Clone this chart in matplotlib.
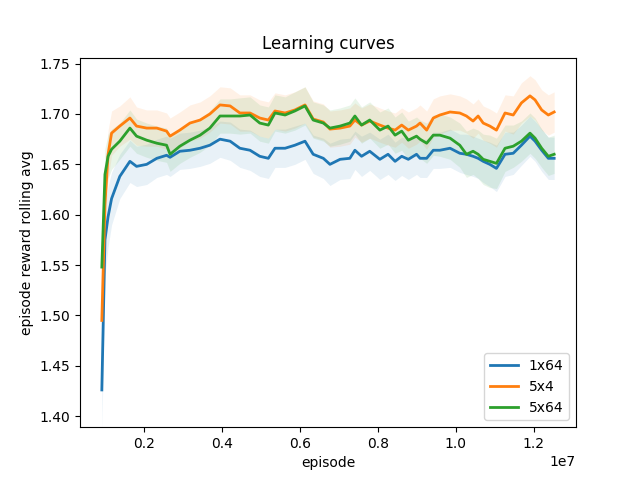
import numpy as np
import matplotlib
matplotlib.use("Agg")
import matplotlib.pyplot as plt

# episode (in millions)
episodes_m = [0.92, 1.00, 1.08, 1.17, 1.38, 1.64, 1.81, 2.07, 2.33, 2.58,
              2.67, 2.92, 3.18, 3.44, 3.69, 3.95, 4.21, 4.46, 4.72, 4.97,
              5.19, 5.36, 5.62, 5.87, 6.13, 6.34, 6.60, 6.77, 7.03, 7.28,
              7.41, 7.58, 7.79, 8.05, 8.26, 8.44, 8.61, 8.78, 8.99, 9.08,
              9.25, 9.42, 9.59, 9.85, 10.10, 10.27, 10.44, 10.57, 10.70, 10.87,
              11.04, 11.26, 11.47, 11.68, 11.90, 12.03, 12.20, 12.37, 12.52]

mean_1x64 = [1.426, 1.575, 1.598, 1.616, 1.638, 1.653, 1.648, 1.650, 1.656, 1.659,
             1.657, 1.663, 1.664, 1.666, 1.669, 1.675, 1.673, 1.666, 1.664, 1.658,
             1.656, 1.666, 1.666, 1.669, 1.673, 1.660, 1.656, 1.650, 1.655, 1.656,
             1.664, 1.658, 1.663, 1.655, 1.660, 1.653, 1.658, 1.655, 1.660, 1.656,
             1.656, 1.664, 1.664, 1.666, 1.661, 1.660, 1.658, 1.656, 1.653, 1.650,
             1.646, 1.660, 1.661, 1.669, 1.678, 1.673, 1.664, 1.656, 1.656]

mean_5x4 = [1.495, 1.610, 1.660, 1.681, 1.688, 1.696, 1.688, 1.686, 1.686, 1.683,
            1.678, 1.684, 1.691, 1.694, 1.700, 1.709, 1.708, 1.701, 1.701, 1.696,
            1.694, 1.703, 1.701, 1.704, 1.709, 1.695, 1.692, 1.685, 1.686, 1.688,
            1.694, 1.689, 1.693, 1.689, 1.686, 1.684, 1.689, 1.684, 1.688, 1.691,
            1.684, 1.696, 1.699, 1.702, 1.701, 1.698, 1.693, 1.698, 1.691, 1.688,
            1.684, 1.701, 1.699, 1.711, 1.718, 1.714, 1.704, 1.699, 1.702]

mean_5x64 = [1.548, 1.640, 1.658, 1.665, 1.673, 1.686, 1.678, 1.674, 1.671, 1.669,
             1.660, 1.668, 1.674, 1.679, 1.686, 1.698, 1.698, 1.698, 1.699, 1.691,
             1.689, 1.701, 1.699, 1.703, 1.708, 1.694, 1.691, 1.686, 1.688, 1.691,
             1.698, 1.689, 1.694, 1.684, 1.688, 1.679, 1.683, 1.674, 1.678, 1.675,
             1.671, 1.679, 1.679, 1.676, 1.669, 1.660, 1.663, 1.660, 1.655, 1.653,
             1.651, 1.666, 1.668, 1.673, 1.681, 1.676, 1.666, 1.658, 1.660]

std_1x64 = [0.040, 0.035, 0.030, 0.026, 0.022, 0.021, 0.020, 0.020, 0.019, 0.019,
            0.019, 0.018, 0.018, 0.018, 0.018, 0.018, 0.019, 0.019, 0.020, 0.020,
            0.020, 0.019, 0.019, 0.019, 0.018, 0.019, 0.020, 0.021, 0.020, 0.020,
            0.019, 0.020, 0.019, 0.020, 0.020, 0.019, 0.019, 0.020, 0.020, 0.019,
            0.019, 0.018, 0.018, 0.019, 0.019, 0.020, 0.020, 0.020, 0.021, 0.022,
            0.023, 0.022, 0.021, 0.020, 0.020, 0.020, 0.021, 0.021, 0.021]

std_5x4 = [0.030, 0.028, 0.024, 0.022, 0.020, 0.021, 0.019, 0.018, 0.018, 0.018,
           0.018, 0.018, 0.018, 0.018, 0.018, 0.018, 0.018, 0.018, 0.018, 0.018,
           0.018, 0.018, 0.018, 0.018, 0.018, 0.018, 0.018, 0.018, 0.018, 0.018,
           0.017, 0.017, 0.017, 0.017, 0.017, 0.017, 0.017, 0.018, 0.018, 0.018,
           0.019, 0.019, 0.019, 0.018, 0.017, 0.017, 0.017, 0.017, 0.017, 0.017,
           0.017, 0.018, 0.019, 0.020, 0.020, 0.020, 0.020, 0.020, 0.020]

std_5x64 = [0.030, 0.026, 0.022, 0.020, 0.018, 0.018, 0.017, 0.017, 0.017, 0.017,
            0.017, 0.017, 0.017, 0.017, 0.017, 0.017, 0.017, 0.018, 0.018, 0.018,
            0.018, 0.018, 0.018, 0.019, 0.019, 0.018, 0.018, 0.018, 0.018, 0.018,
            0.018, 0.018, 0.018, 0.018, 0.018, 0.018, 0.019, 0.019, 0.019, 0.019,
            0.020, 0.020, 0.021, 0.021, 0.022, 0.023, 0.023, 0.024, 0.025, 0.026,
            0.025, 0.023, 0.021, 0.020, 0.020, 0.020, 0.019, 0.019, 0.019]

labels = ["1x64", "5x4", "5x64"]
means = [mean_1x64, mean_5x4, mean_5x64]
stds = [std_1x64, std_5x4, std_5x64]

x = np.array(episodes_m) * 1e6

fig, ax = plt.subplots(figsize=(6.4, 4.8), dpi=100)
for label, m, s in zip(labels, means, stds):
    m = np.array(m)
    s = np.array(s)
    line, = ax.plot(x, m, label=label, linewidth=2)
    ax.fill_between(x, m - s, m + s, color=line.get_color(), alpha=0.1, linewidth=0)

ax.set_xlim(0.36e6, 13.08e6)
ax.set_ylim(1.389, 1.756)
ax.set_title("Learning curves")
ax.set_xlabel("episode")
ax.set_ylabel("episode reward rolling avg")
ax.legend(loc="lower right")

fig.savefig("out.png")
